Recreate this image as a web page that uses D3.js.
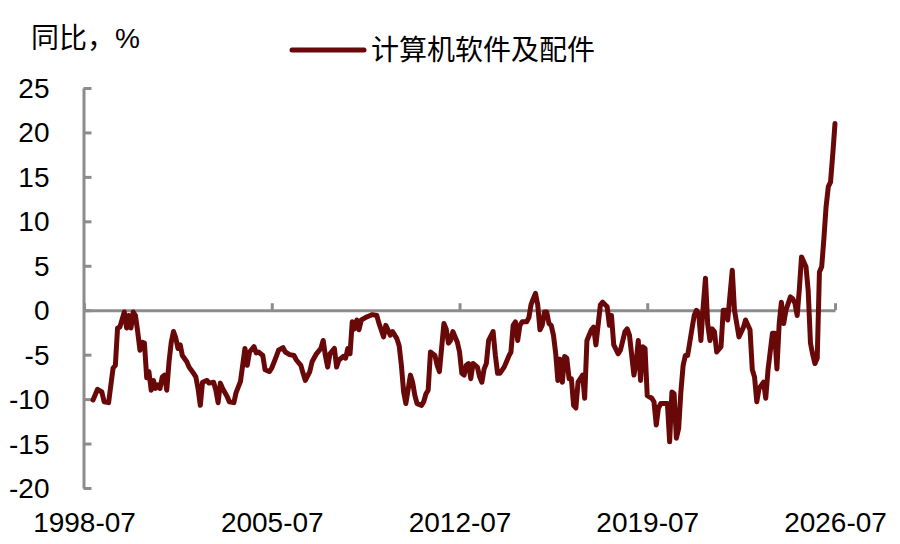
<!DOCTYPE html>
<html>
<head>
<meta charset="utf-8">
<script src="https://cdn.jsdelivr.net/npm/d3@7"></script>
<style>
    body { margin: 0; background: #fff; }
    svg { display: block; }
    text { font-family: "Liberation Sans", Arial, "Noto Sans CJK SC", sans-serif; fill: #000; }
</style>
</head>
<body>
<svg id="chart" width="900" height="544"></svg>
<script>
const seriesName = "计算机软件及配件"
const unitLabel = "同比，%"

// month of each reading, one line per year
const months = [
    "1998-11",
    "1999-01","1999-03","1999-04","1999-06","1999-08","1999-09","1999-10","1999-11",
    "2000-01","2000-02","2000-03","2000-04","2000-05","2000-06","2000-07","2000-08","2000-09","2000-10","2000-11","2000-12",
    "2001-01","2001-02","2001-03","2001-04","2001-05","2001-06","2001-07","2001-08","2001-09","2001-10","2001-11","2001-12",
    "2002-01","2002-02","2002-03","2002-05","2002-06","2002-08","2002-09","2002-10","2002-11","2002-12",
    "2003-02","2003-03","2003-05","2003-06","2003-07","2003-08","2003-09","2003-11","2003-12",
    "2004-02","2004-03","2004-05","2004-07","2004-08","2004-09","2004-11","2004-12",
    "2005-01","2005-03","2005-04","2005-06","2005-07","2005-09","2005-10","2005-12",
    "2006-01","2006-03","2006-05","2006-06","2006-08","2006-09","2006-10","2006-12",
    "2007-01","2007-03","2007-05","2007-06","2007-07","2007-08","2007-09","2007-11","2007-12",
    "2008-01","2008-03","2008-04","2008-05","2008-06","2008-07","2008-08","2008-09","2008-10","2008-11",
    "2009-01","2009-03","2009-04","2009-06","2009-07","2009-09","2009-10","2009-12",
    "2010-01","2010-03","2010-04","2010-05","2010-06","2010-07","2010-09","2010-10","2010-11","2010-12",
    "2011-02","2011-03","2011-04","2011-05","2011-06","2011-08","2011-09","2011-10","2011-12",
    "2012-01","2012-02","2012-03","2012-04","2012-06","2012-07","2012-08","2012-09","2012-10","2012-11","2012-12",
    "2013-01","2013-03","2013-04","2013-05","2013-06","2013-07","2013-08","2013-10","2013-11","2013-12",
    "2014-01","2014-03","2014-04","2014-05","2014-06","2014-07","2014-08","2014-09","2014-10","2014-11",
    "2015-01","2015-02","2015-03","2015-04","2015-05","2015-06","2015-07","2015-08","2015-09","2015-10","2015-11","2015-12",
    "2016-01","2016-02","2016-03","2016-04","2016-05","2016-06","2016-07","2016-08","2016-09","2016-10","2016-11","2016-12",
    "2017-02","2017-03","2017-04","2017-06","2017-07","2017-08","2017-10","2017-11",
    "2018-01","2018-02","2018-03","2018-04","2018-06","2018-07","2018-09","2018-10","2018-11",
    "2019-01","2019-02","2019-03","2019-04","2019-05","2019-06","2019-07","2019-09","2019-10","2019-11","2019-12",
    "2020-01","2020-03","2020-04","2020-05","2020-06","2020-07","2020-08","2020-09","2020-10","2020-11","2020-12",
    "2021-01","2021-03","2021-04","2021-05","2021-06","2021-07","2021-08","2021-09","2021-10","2021-11","2021-12",
    "2022-01","2022-02","2022-04","2022-05","2022-06","2022-07","2022-09","2022-10","2022-11","2022-12",
    "2023-02","2023-03","2023-05","2023-06","2023-07","2023-08","2023-09","2023-11","2023-12",
    "2024-01","2024-03","2024-04","2024-05","2024-06","2024-07","2024-08","2024-09","2024-11","2024-12",
    "2025-01","2025-02","2025-03","2025-04","2025-06","2025-07","2025-08","2025-09","2025-10","2025-11","2025-12",
    "2026-01","2026-02","2026-03","2026-04","2026-05","2026-06","2026-07"
]

// year-on-year change, %, same order as months
const values = [
    -10.1,
    -8.9, -9.2, -10.3, -10.4, -6.5, -6.2, -2.0, -1.9,
    -0.2, -2.0, -0.6, -2.0, -0.2, -0.6, -2.4, -4.5, -3.6, -3.7, -7.6, -6.9,
    -9.0, -7.9, -8.8, -8.4, -8.8, -7.5, -7.3, -9.0, -5.8, -3.6, -2.4, -3.1,
    -4.3, -3.9, -5.1, -5.8, -6.4, -7.1, -7.5, -8.8, -10.7, -8.1,
    -7.9, -8.2, -8.1, -9.0, -10.4, -8.2, -8.8, -9.7, -10.3,
    -10.4, -9.3, -8.0, -4.3, -6.2, -4.7, -4.1, -4.8,
    -4.7, -5.1, -6.7, -6.9, -6.5, -5.2, -4.5, -4.2,
    -4.7, -5.0, -5.1, -5.6, -6.2, -7.1, -7.9, -6.9,
    -5.8, -4.9, -4.3, -3.4, -5.1, -6.4, -4.9, -4.3, -6.4,
    -5.6, -5.2, -5.4, -4.3, -4.9, -1.3, -2.1, -1.1, -2.2, -1.1,
    -0.8, -0.6, -0.5, -0.6, -1.5, -3.0, -1.7, -2.8,
    -2.4, -3.2, -4.0, -6.2, -9.2, -10.5, -7.3, -8.1, -9.6, -10.5,
    -10.7, -10.3, -9.4, -9.0, -4.7, -5.1, -6.2, -6.9, -1.5,
    -2.1, -3.7, -3.4, -2.4, -3.6, -4.7, -7.1, -7.3, -6.2, -6.0, -7.7,
    -6.0, -6.4, -7.5, -8.1, -6.6, -6.0, -3.4, -2.4, -5.1, -7.1,
    -7.1, -6.4, -5.8, -5.2, -4.7, -1.7, -1.3, -3.4, -1.7, -1.3,
    -1.3, -0.8, 0.6, 1.3, 1.9, 0.6, -2.2, -1.7, -0.2, -0.2, -1.5, -1.7,
    -2.8, -4.9, -7.9, -5.5, -8.1, -5.2, -5.4, -7.7, -7.7, -10.7, -11.0, -8.1,
    -7.3, -9.9, -3.4, -2.2, -1.9, -3.9, 0.6, 0.9,
    0.4, -1.7, -0.6, -3.9, -4.9, -4.5, -2.4, -2.1, -2.8,
    -7.3, -5.8, -3.4, -7.9, -4.1, -4.3, -9.6, -9.9, -10.3, -12.9, -11.0,
    -10.5, -10.5, -10.5, -14.8, -9.2, -9.4, -14.4, -13.3, -9.2, -6.2, -5.1,
    -5.1, -2.1, -0.6, 0.0, -0.4, -3.4, 0.4, 3.6, -1.5, -3.4, -2.1,
    -2.4, -4.7, -4.1, 0.0, 0.0, -1.1, 4.5, 0.0, -1.5, -3.0,
    -1.9, -1.1, -2.2, -6.7, -7.5, -10.3, -8.8, -8.1, -9.9,
    -6.7, -2.6, -2.6, -6.6, -1.5, 0.9, -1.5, 0.0, 1.5, 1.3,
    0.8, -0.6, 2.2, 6.0, 4.9, 2.2, -3.7, -5.0, -6.0, -5.4, 4.3,
    4.9, 8.2, 11.6, 13.9, 14.4, 17.6, 21.0
]

const xTickLabels = ["1998-07", "2005-07", "2012-07", "2019-07", "2026-07"]
const yTickValues = [-20, -15, -10, -5, 0, 5, 10, 15, 20, 25]

const lineColor = "#690808"
const axisColor = "#8c8c8c"

const margin = {top: 88, right: 65, bottom: 56, left: 84}
const width = 900 - margin.left - margin.right
const height = 544 - margin.top - margin.bottom

const parseMonth = d3.timeParse("%Y-%m")
const data = months.map(function(m, i) { return {date: parseMonth(m), value: values[i]} })

const svg = d3.select("#chart")
const g = svg.append("g").attr("transform", "translate(" + margin.left + "," + margin.top + ")")

const x = d3.scaleTime()
    .domain([parseMonth(xTickLabels[0]), parseMonth(xTickLabels[xTickLabels.length - 1])])
    .range([0, width])

const y = d3.scaleLinear()
    .domain([d3.min(yTickValues), d3.max(yTickValues)])
    .range([height, 0])

// y axis: ticks point into the plot, labels on the left
const yAxis = g.append("g")
    .attr("transform", "translate(-0.5,0)")
    .call(d3.axisLeft(y)
        .tickValues(yTickValues)
        .tickSizeInner(-8)
        .tickSizeOuter(0)
        .tickPadding(34)
        .tickFormat(function(d) { return String(d) }))

// x axis sits on the zero line, labels drop to the bottom
const xAxis = g.append("g")
    .attr("transform", "translate(0," + y(0) + ")")
    .call(d3.axisBottom(x)
        .tickValues(xTickLabels.map(parseMonth))
        .tickSizeInner(-7)
        .tickSizeOuter(0)
        .tickPadding(height - y(0) + 24)
        .tickFormat(d3.timeFormat("%Y-%m")))

g.selectAll(".domain, .tick line")
    .attr("stroke", axisColor)
    .attr("stroke-width", 3)
g.selectAll(".tick text")
    .attr("fill", "#000")
    .style("font-size", "28px")
    .style("font-family", "'Liberation Sans', Arial, sans-serif")
yAxis.selectAll(".tick text").attr("dy", "0.34em")

const line = d3.line()
    .x(function(d) { return x(d.date) })
    .y(function(d) { return y(d.value) })

g.append("path")
    .datum(data)
    .attr("fill", "none")
    .attr("stroke", lineColor)
    .attr("stroke-width", 5)
    .attr("stroke-linejoin", "round")
    .attr("stroke-linecap", "round")
    .attr("d", line)

// unit label
svg.append("text")
    .attr("x", 31)
    .attr("y", 48)
    .style("font-size", "28px")
    .text(unitLabel)

// legend
svg.append("line")
    .attr("x1", 292).attr("x2", 364)
    .attr("y1", 50).attr("y2", 50)
    .attr("stroke", lineColor)
    .attr("stroke-width", 5)
    .attr("stroke-linecap", "round")
svg.append("text")
    .attr("x", 371)
    .attr("y", 60)
    .style("font-size", "28px")
    .text(seriesName)
</script>
</body>
</html>
